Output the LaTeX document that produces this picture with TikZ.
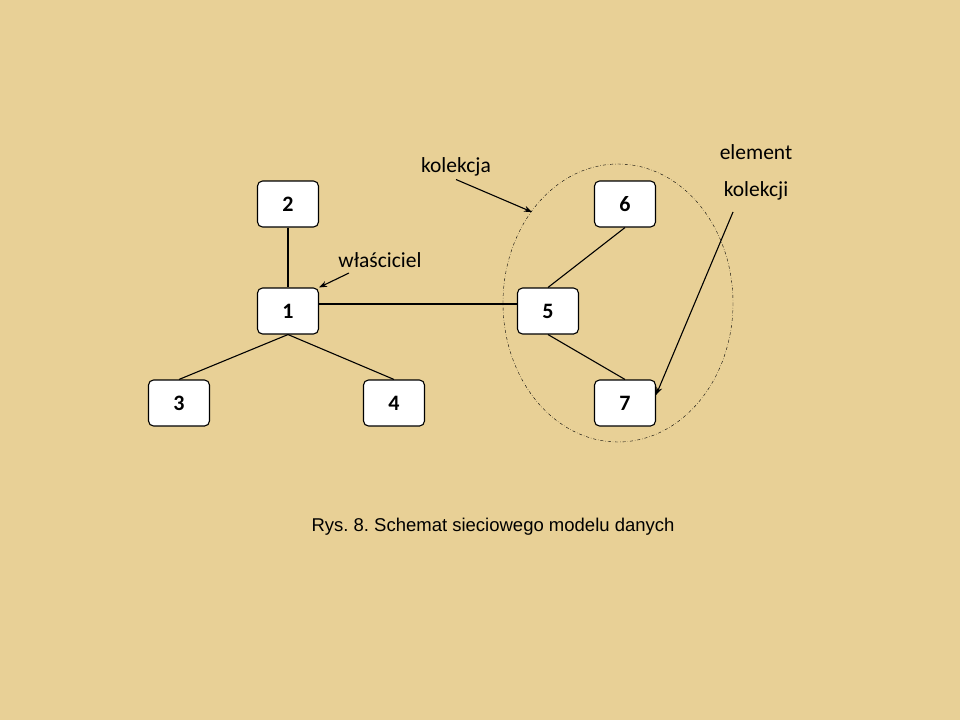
\documentclass[tikz,border=0pt]{standalone}
\usepackage{fontspec}
\setmainfont{Carlito}
\newfontfamily\capfont{Liberation Sans}
\usepackage{tikz}
\usetikzlibrary{arrows.meta,positioning}

\definecolor{papyrus}{RGB}{232,208,150}
\frenchspacing

\begin{document}
\begin{tikzpicture}[
  x=1pt, y=-1pt,
  box/.style={draw, line width=1.1pt, rounded corners=5pt, fill=white, minimum width=61pt, minimum height=46pt, font=\fontsize{22}{24}\selectfont\bfseries, inner sep=0pt},
  link/.style={draw, line width=1.1pt},
  arrow/.style={-{Stealth[length=8pt, width=6pt]}, draw, line width=1.1pt},
  lbl/.style={font=\fontsize{21.5}{37}\selectfont, align=center, inner sep=0pt},
]
\fill[papyrus] (0,0) rectangle (960,720);
\useasboundingbox (0,0) rectangle (960,720);

\node[box] (n2) at (288,204) {2};
\node[box] (n1) at (288,311) {1};
\node[box] (n5) at (548,311) {5};
\node[box] (n6) at (625,204) {6};
\node[box] (n7) at (625,403) {7};
\node[box] (n3) at (179,403) {3};
\node[box] (n4) at (394,403) {4};

\draw[link] (n2) -- (n1);
\draw[link] ([yshift=7pt]n1.east) -- ([yshift=7pt]n5.west);
\draw[link] (n1.south) -- (n3.north);
\draw[link] (n1.south) -- (n4.north);
\draw[link] (n5.north) -- (n6.south);
\draw[link] (n5.south) -- (n7.north);

% zbior elementow kolekcji
\draw[dash dot, thin] (618,303) ellipse [x radius=115, y radius=139];
\coordinate (coll) at (532,212);

\node[lbl] (wl) at (380,260) {właściciel};
\node[lbl] (kol) at (456,167) {kolekcja};
\node[lbl] (elem) at (756,172) {element\\kolekcji};
\coordinate (wl_end) at (349,273);
\coordinate (elem_end) at (733,212);

\draw[arrow] (wl_end) -- (n1.north east);
\draw[arrow] ([yshift=-3pt]kol.south) -- (coll);
\draw[arrow] (elem_end) -- ([yshift=8pt]n7.east);

\node[font=\capfont\fontsize{18.5}{22}\selectfont] (cap) at (493,527) {Rys. 8. Schemat sieciowego modelu danych};
\end{tikzpicture}
\end{document}
